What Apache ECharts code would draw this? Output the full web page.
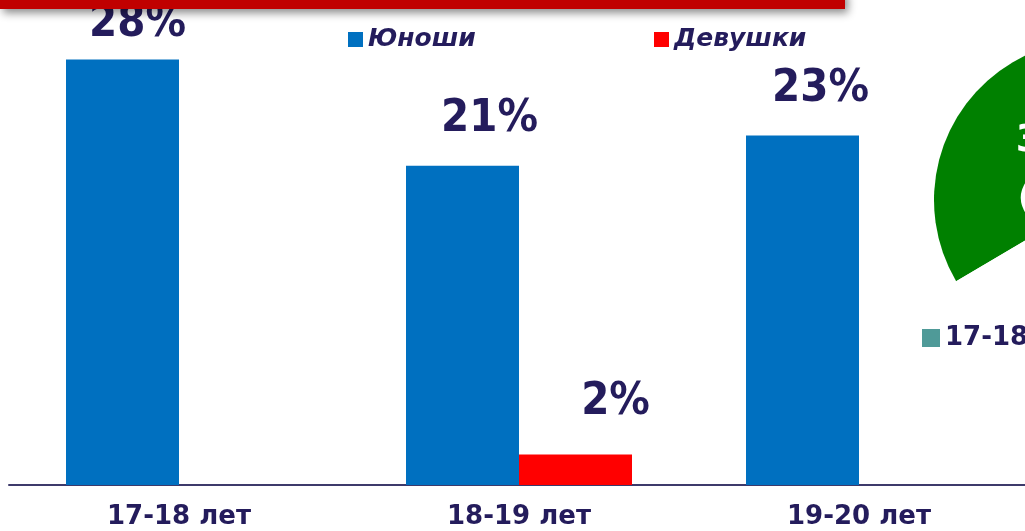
<!DOCTYPE html>
<html>
<head>
<meta charset="utf-8">
<script src="https://cdn.jsdelivr.net/npm/echarts@6/dist/echarts.min.js"></script>
<style>
html,body{margin:0;padding:0;background:#fff;overflow:hidden;width:1025px;height:531px;}
#chart{width:1040px;height:531px;}
</style>
</head>
<body>
<div id="chart"></div>
<script>
// ---- data ----
const categories = ['17-18 лет', '18-19 лет', '19-20 лет'];
const boys = [28, 21, 23];
const girls = [0, 2, 0];
const seriesNames = ['Юноши', 'Девушки'];
const pieNames = ['18-19 лет', '17-18 лет', '19-20 лет'];
const pieValues = [33, 38, 29];
const pieCounts = [62, 72, 55];

// ---- styles ----
const NAVY = '#241c5c';
const boysLabelOffset = [[15, 11], [27, 0], [18, 0]];
const girlsLabelOffset = [[0, 0], [40, -6], [0, 0]];
const pieColors = ['#008000', '#4f9a98', '#ffffff'];

const pctLabel = {
  show: true,
  position: 'top',
  distance: 24,
  fontFamily: "'Liberation Sans Narrow', 'DejaVu Sans Condensed', sans-serif",
  fontWeight: 'bold',
  fontSize: 45,
  color: NAVY,
  formatter: p => (p.value ? p.value + '%' : '')
};

const legendText = {fontFamily: "'DejaVu Sans', sans-serif", fontStyle: 'italic', fontWeight: 'bold', fontSize: 25, color: NAVY};

const chart = echarts.init(document.getElementById('chart'), null, {renderer: 'canvas'});
chart.setOption({
  animation: false,
  backgroundColor: '#ffffff',
  grid: {left: 9, width: 1020, top: 29, bottom: 46, containLabel: false},
  legend: [
    {
      data: [seriesNames[0]],
      left: 348, top: 27, padding: 0,
      icon: 'rect', itemWidth: 15, itemHeight: 15, itemGap: 0,
      selectedMode: false, textStyle: legendText
    },
    {
      data: [seriesNames[1]],
      left: 654, top: 27, padding: 0,
      icon: 'rect', itemWidth: 15, itemHeight: 15, itemGap: 0,
      selectedMode: false, textStyle: legendText
    },
    {
      data: [pieNames[1]],
      left: 922, top: 325, padding: 0,
      icon: 'rect', itemWidth: 18, itemHeight: 18,
      selectedMode: false,
      textStyle: {fontFamily: "'DejaVu Sans', sans-serif", fontWeight: 'bold', fontSize: 26, color: NAVY}
    }
  ],
  xAxis: {
    type: 'category',
    data: categories,
    axisTick: {show: false},
    axisLine: {show: true, lineStyle: {color: '#3d3a6b', width: 2}},
    axisLabel: {fontFamily: "'DejaVu Sans', sans-serif", fontWeight: 'bold', fontSize: 26, color: NAVY, margin: 19}
  },
  yAxis: {type: 'value', min: 0, max: 30, show: false, splitLine: {show: false}},
  series: [
    {
      name: seriesNames[0],
      type: 'bar',
      barWidth: 113,
      barGap: '0%',
      itemStyle: {color: '#0070c0'},
      label: pctLabel,
      data: boys.map((v, i) => ({value: v, label: {offset: boysLabelOffset[i]}}))
    },
    {
      name: seriesNames[1],
      type: 'bar',
      barWidth: 113,
      barGap: '0%',
      itemStyle: {color: '#ff0000'},
      label: pctLabel,
      data: girls.map((v, i) => ({value: v, label: {offset: girlsLabelOffset[i]}}))
    },
    {
      type: 'pie',
      center: [1094, 200],
      radius: 160,
      startAngle: 210.5,
      clockwise: true,
      avoidLabelOverlap: false,
      silent: true,
      itemStyle: {borderWidth: 0},
      labelLine: {show: false},
      data: pieNames.map((n, i) => ({
        name: n,
        value: pieValues[i],
        itemStyle: {color: pieColors[i]},
        label: {
          show: i === 0,
          position: 'inside',
          fontFamily: "'DejaVu Sans', sans-serif",
          fontWeight: 'bold',
          fontSize: 38,
          lineHeight: 58,
          color: '#ffffff',
          offset: [40, 10],
          formatter: p => p.value + '%\n(' + pieCounts[p.dataIndex] + ')'
        }
      }))
    }
  ],
  graphic: [
    {
      type: 'rect',
      z: 100,
      shape: {x: 0, y: -10, width: 845, height: 19},
      style: {fill: '#c00000', shadowBlur: 8, shadowOffsetX: 3, shadowOffsetY: 4, shadowColor: 'rgba(0,0,0,0.45)'}
    }
  ]
});
</script>
</body>
</html>
